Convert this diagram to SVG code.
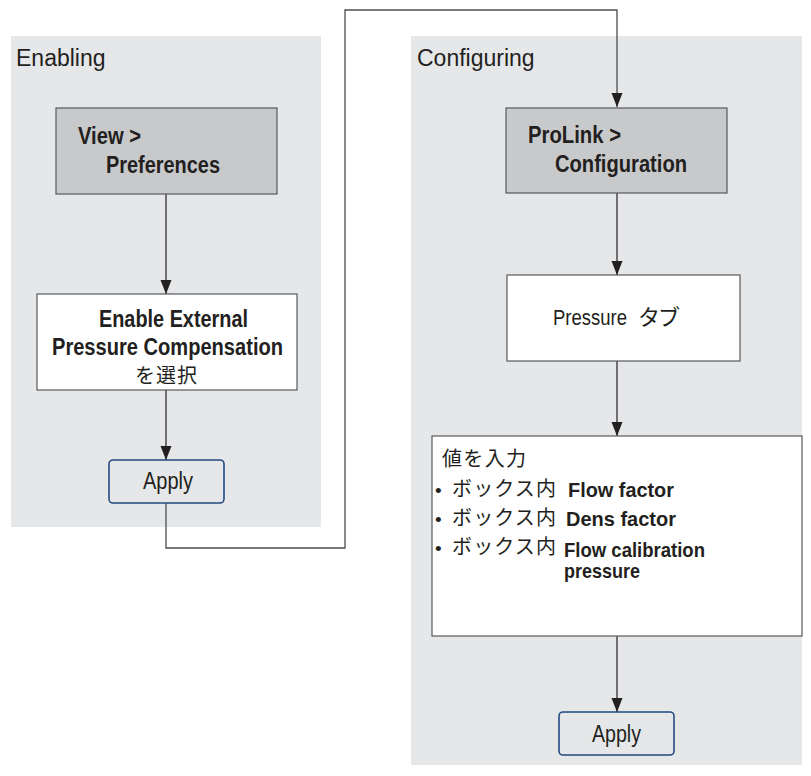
<svg xmlns="http://www.w3.org/2000/svg" width="811" height="776" viewBox="0 0 811 776">
<style>
.panel{fill:#e6e7e9;stroke:none}
.gbox{fill:#c8c9cb;stroke:#58595b;stroke-width:1.2}
.wbox{fill:#ffffff;stroke:#58595b;stroke-width:1.2}
.apply{fill:#e6e7e9;stroke:#234a82;stroke-width:1.6}
.lbl{font-family:"Liberation Sans",Arial,sans-serif;font-size:23px;fill:#231f20}
.b{font-family:"Liberation Sans",Arial,sans-serif;font-size:23px;font-weight:bold;fill:#231f20}
.bs{font-family:"Liberation Sans",Arial,sans-serif;font-size:21px;font-weight:bold;fill:#231f20}
.r{font-family:"Liberation Sans",Arial,sans-serif;font-size:23px;fill:#231f20}
.j{font-family:"Liberation Sans","Noto Sans CJK JP",sans-serif;font-size:20px;fill:#231f20}
.dot{font-family:"Liberation Sans",Arial,sans-serif;font-size:19px;fill:#231f20}
.conn{fill:none;stroke:#231f20;stroke-width:1.2}
.loop{fill:none;stroke:#4d4d4f;stroke-width:1.3}
</style>
<defs>
<marker id="arr" markerUnits="userSpaceOnUse" markerWidth="14" markerHeight="12" viewBox="0 0 14 12" refX="14" refY="6" orient="auto">
<path d="M0,0.5 L14,6 L0,11.5 z" fill="#231f20"/>
</marker>
</defs>
<g id="panel-enabling">
<rect class="panel" x="11" y="36" width="310" height="491"/>
<text class="lbl" x="16" y="66">Enabling</text>
</g>
<g id="panel-configuring">
<rect class="panel" x="411" y="36" width="391" height="729"/>
<text class="lbl" x="417" y="66">Configuring</text>
</g>
<g id="connectors">
<line class="conn" x1="166" y1="194" x2="166" y2="294" marker-end="url(#arr)"/>
<line class="conn" x1="166" y1="390" x2="166" y2="460" marker-end="url(#arr)"/>
<path class="loop" d="M166,503 V548 H345 V10 H617 V107" marker-end="url(#arr)"/>
<line class="conn" x1="617" y1="193" x2="617" y2="275" marker-end="url(#arr)"/>
<line class="conn" x1="617" y1="361" x2="617" y2="436" marker-end="url(#arr)"/>
<line class="conn" x1="617" y1="636" x2="617" y2="712" marker-end="url(#arr)"/>
</g>
<g id="view-preferences">
<rect class="gbox" x="56" y="108" width="221" height="86"/>
<text class="b" x="78" y="144" textLength="63" lengthAdjust="spacingAndGlyphs">View &gt;</text>
<text class="b" x="106" y="173" textLength="114" lengthAdjust="spacingAndGlyphs">Preferences</text>
</g>
<g id="enable-external">
<rect class="wbox" x="37" y="294" width="260" height="96"/>
<text class="b" x="99" y="327" textLength="149" lengthAdjust="spacingAndGlyphs">Enable External</text>
<text class="b" x="52" y="355" textLength="231" lengthAdjust="spacingAndGlyphs">Pressure Compensation</text>
<text class="j" x="135" y="383" textLength="62" lengthAdjust="spacing">を選択</text>
</g>
<g id="apply-1">
<rect class="apply" x="109" y="460" width="115" height="43" rx="4"/>
<text class="r" x="143" y="489" textLength="50" lengthAdjust="spacingAndGlyphs">Apply</text>
</g>
<g id="prolink-configuration">
<rect class="gbox" x="506" y="108" width="221" height="85"/>
<text class="b" x="528" y="143" textLength="93" lengthAdjust="spacingAndGlyphs">ProLink &gt;</text>
<text class="b" x="555" y="172" textLength="132" lengthAdjust="spacingAndGlyphs">Configuration</text>
</g>
<g id="pressure-tab">
<rect class="wbox" x="507" y="275" width="233" height="86"/>
<text class="j" x="553" y="325" style="font-size:22px"><tspan textLength="74" lengthAdjust="spacingAndGlyphs">Pressure</tspan><tspan x="638" textLength="42" lengthAdjust="spacing">タブ</tspan></text>
</g>
<g id="enter-values">
<rect class="wbox" x="432" y="436" width="370" height="200"/>
<text class="j" x="442" y="466" textLength="84" lengthAdjust="spacing">値を入力</text>
<text class="dot" x="435" y="497">•</text>
<text class="j" x="452" y="496" textLength="104" lengthAdjust="spacing">ボックス内</text>
<text class="bs" x="568" y="497" textLength="106" lengthAdjust="spacingAndGlyphs">Flow factor</text>
<text class="dot" x="435" y="526">•</text>
<text class="j" x="452" y="525" textLength="104" lengthAdjust="spacing">ボックス内</text>
<text class="bs" x="566" y="526" textLength="110" lengthAdjust="spacingAndGlyphs">Dens factor</text>
<text class="dot" x="435" y="555">•</text>
<text class="j" x="452" y="554" textLength="104" lengthAdjust="spacing">ボックス内</text>
<text class="bs" x="564" y="557" textLength="141" lengthAdjust="spacingAndGlyphs">Flow calibration</text>
<text class="bs" x="564" y="578" textLength="76" lengthAdjust="spacingAndGlyphs">pressure</text>
</g>
<g id="apply-2">
<rect class="apply" x="559" y="712" width="115" height="43" rx="4"/>
<text class="r" x="592" y="742" textLength="49" lengthAdjust="spacingAndGlyphs">Apply</text>
</g>
</svg>
